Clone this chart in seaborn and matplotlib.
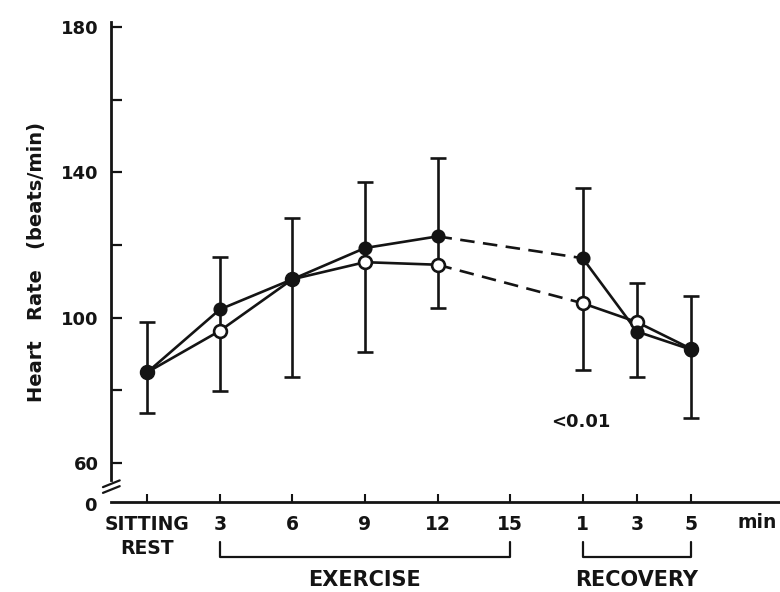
import numpy as np
import pandas as pd
import matplotlib
matplotlib.use("Agg")
import matplotlib.pyplot as plt
import seaborn as sns
from matplotlib.transforms import blended_transform_factory

# ---------------- data ----------------
tick_pos = [0, 1, 2, 3, 4, 5, 6, 6.75, 7.5]
tick_labels = ["SITTING\nREST", "3", "6", "9", "12", "15", "1", "3", "5"]

point_x = [0, 1, 2, 3, 4, 6, 6.75, 7.5]
hr_filled = [85.0, 102.3, 110.6, 119.2, 122.4, 116.4, 96.2, 91.2]
hr_open = [85.0, 96.4, 110.6, 115.3, 114.6, 104.0, 98.8, 91.4]
err_top = [98.8, 116.7, 127.4, 137.3, 144.0, 135.7, 109.5, 106.0]
err_bot = [73.8, 79.8, 83.7, 90.6, 102.7, 85.6, 83.7, 72.4]

y_major = [60, 100, 140, 180]
y_minor = [80, 120, 160]

# segments (index ranges into point arrays): solid, dashed, solid
segments = [(0, 5, "-"), (4, 6, (0, (5.5, 3.2))), (5, 8, "-")]

# ---------------- style ----------------
sns.set_style("ticks")
plt.rcParams["font.family"] = ["DejaVu Sans"]
plt.rcParams["font.weight"] = "bold"
INK = "#141414"

fig = plt.figure(figsize=(7.8, 5.92), dpi=100)
ax = fig.add_axes([111 / 780, 1 - 502 / 592, 669 / 780, 480 / 592])

# lines
for series in (hr_filled, hr_open):
    for a, b, ls in segments:
        sns.lineplot(x=point_x[a:b], y=series[a:b], color=INK, lw=1.9,
                     linestyle=ls, sort=False, estimator=None, ax=ax, zorder=2)

# error bars
yf = np.array(hr_filled)
ax.errorbar(point_x, yf, yerr=[yf - np.array(err_bot), np.array(err_top) - yf],
            fmt="none", ecolor=INK, elinewidth=1.9, capsize=6, capthick=1.9, zorder=1)

# markers
sns.scatterplot(x=point_x, y=hr_open, s=85, color="white", edgecolor=INK,
                linewidth=1.9, ax=ax, zorder=4)
sns.scatterplot(x=point_x, y=hr_filled, s=75, color=INK, edgecolor=INK,
                linewidth=1.5, ax=ax, zorder=5)

# axes
ax.set_xlim(-0.5, 8.72)
ax.set_ylim(49.3, 181.4)
ax.set_xticks(tick_pos)
ax.set_xticklabels(tick_labels, fontsize=13.5, fontweight="bold", linespacing=1.35)
ax.set_yticks(y_major)
ax.set_yticks(y_minor, minor=True)
ax.set_yticklabels([str(v) for v in y_major], fontsize=13, fontweight="bold")
ax.tick_params(axis="x", direction="in", length=6, width=1.5, pad=9, colors=INK)
ax.tick_params(axis="y", which="both", direction="in", length=8, width=1.6, pad=9, colors=INK)

for s in ("top", "right"):
    ax.spines[s].set_visible(False)
ax.spines["left"].set_linewidth(2.0)
ax.spines["bottom"].set_linewidth(2.0)
ax.spines["left"].set_color(INK)
ax.spines["bottom"].set_color(INK)
ax.spines["left"].set_bounds(55.3, 181.4)

ax.set_ylabel("Heart   Rate   (beats/min)", fontsize=14, fontweight="bold",
              color=INK, labelpad=11)

# axis break marks and zero label
for dy in (0.0, 0.012):
    ax.plot([-0.012, 0.013], [0.019 + dy, 0.033 + dy], transform=ax.transAxes,
            color=INK, lw=1.6, clip_on=False)
ax.annotate("0", xy=(0, 0), xycoords="axes fraction", xytext=(-10, -3),
            textcoords="offset points", ha="right", va="center",
            fontsize=13, fontweight="bold", color=INK)

# brackets and phase labels
tr = blended_transform_factory(ax.transData, ax.transAxes)
for x0, x1, lab in ((1, 5, "EXERCISE"), (6, 7.5, "RECOVERY")):
    ax.plot([x0, x0, x1, x1], [-0.083, -0.115, -0.115, -0.083], transform=tr,
            color=INK, lw=1.6, clip_on=False)
    ax.text((x0 + x1) / 2, -0.163, lab, transform=tr, ha="center", va="center",
            fontsize=15, fontweight="bold", color=INK)

ax.text(8.40, -0.042, "min", transform=tr, ha="center", va="center",
        fontsize=13.5, fontweight="bold", color=INK)

ax.text(5.97, 71.3, "<0.01", ha="center", va="center", fontsize=13,
        fontweight="bold", color=INK)

fig.savefig("out.png", dpi=100)
